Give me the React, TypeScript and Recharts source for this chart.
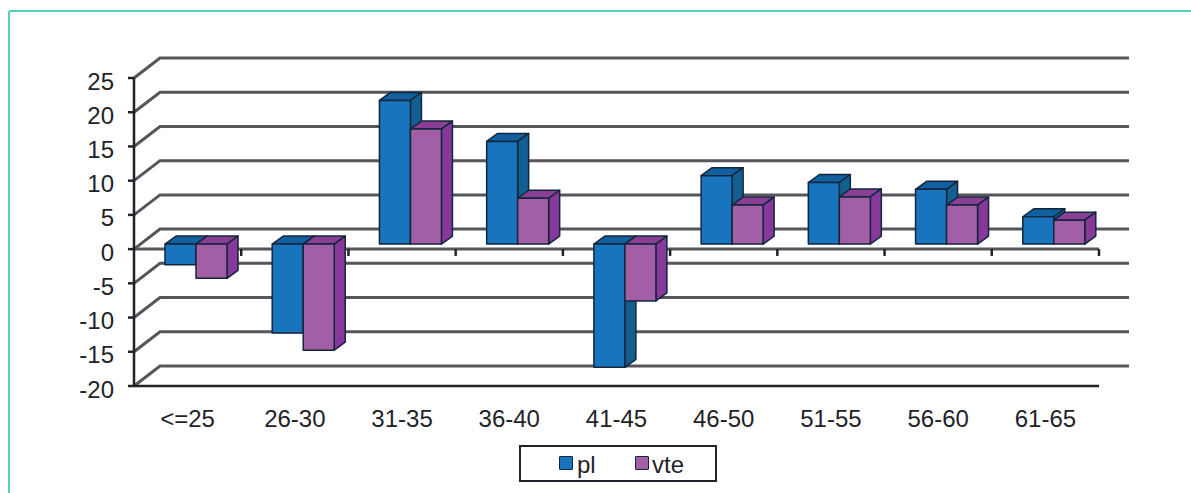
import { BarChart, Bar, XAxis, YAxis, CartesianGrid, Legend, ReferenceLine } from "recharts";

const categories = ["<=25", "26-30", "31-35", "36-40", "41-45", "46-50", "51-55", "56-60", "61-65"];
const plValues = [-3, -13, 21, 15, -18, 10, 9, 8, 4];
const vteValues = [-5, -15.5, 16.8, 6.7, -8.3, 5.7, 6.9, 5.7, 3.5];
const yTicks = [-20, -15, -10, -5, 0, 5, 10, 15, 20, 25];

const data = categories.map((age, i) => ({ age, pl: plValues[i], vte: vteValues[i] }));

const FONT = '"Liberation Sans", Arial, sans-serif';
const INK = "#1f2328";
const GRID = "#54565c";

// fake 3D look of the old spreadsheet chart
const WALL_DX = 26;
const WALL_DY = -20;
const BAR_DX = 8;
const BAR_DY = -5;
const DEPTH_X = 11;
const DEPTH_Y = -8;

const makeBox = (front: string, top: string, side: string) => (props: any) => {
  const { x, y, width, height } = props;
  const left = x + BAR_DX;
  const right = left + width;
  const upper = Math.min(y, y + height) + BAR_DY;
  const lower = Math.max(y, y + height) + BAR_DY;
  const outline = { stroke: "#14263c", strokeWidth: 1.5, strokeLinejoin: "round" as const };
  return (
    <g>
      <polygon
        points={`${left},${upper} ${left + DEPTH_X},${upper + DEPTH_Y} ${right + DEPTH_X},${upper + DEPTH_Y} ${right},${upper}`}
        fill={top}
        {...outline}
      />
      <polygon
        points={`${right},${upper} ${right + DEPTH_X},${upper + DEPTH_Y} ${right + DEPTH_X},${lower + DEPTH_Y} ${right},${lower}`}
        fill={side}
        {...outline}
      />
      <rect x={left} y={upper} width={width} height={lower - upper} fill={front} {...outline} />
    </g>
  );
};

const wallLine = (props: any) => {
  const { x1, x2, y1, key } = props;
  return (
    <polyline
      key={key}
      points={`${x1},${y1} ${x1 + WALL_DX},${y1 + WALL_DY} ${x2 + 30},${y1 + WALL_DY}`}
      fill="none"
      stroke={GRID}
      strokeWidth={3}
    />
  );
};

const swatchColors: Record<string, string> = { pl: "#1874BC", vte: "#A25FA5" };

const LegendBox = ({ payload }: any) => (
  <div
    style={{
      boxSizing: "border-box",
      width: 198,
      height: 37,
      border: `2.5px solid ${INK}`,
      background: "#fff",
      position: "relative",
      fontFamily: FONT,
      fontSize: 24,
      color: INK,
    }}
  >
    {(payload || []).map((item: any, i: number) => (
      <span key={item.value}>
        <span
          style={{
            position: "absolute",
            left: 38 + i * 76,
            top: 9,
            width: 12,
            height: 12,
            background: swatchColors[item.value],
            border: "1.5px solid #14263c",
            borderRadius: 1,
          }}
        />
        <span style={{ position: "absolute", left: 56 + i * 75, top: 5, lineHeight: "26px" }}>{item.value}</span>
      </span>
    ))}
  </div>
);

export default function App() {
  return (
    <div style={{ position: "absolute", left: 0, top: 0, width: 1191, height: 493, background: "#fff", overflow: "hidden" }}>
      <div
        style={{
          position: "absolute",
          left: 8,
          top: 10,
          right: 0,
          bottom: 0,
          borderTop: "2px solid #55d0bb",
          borderLeft: "2px solid #55d0bb",
          borderTopLeftRadius: 3,
        }}
      />
      <BarChart
        width={1191}
        height={493}
        data={data}
        barSize={31}
        barGap={0}
        margin={{ top: 78, right: 92, bottom: 47, left: 0 }}
        style={{ fontFamily: FONT }}
      >
        <CartesianGrid vertical={false} horizontal={wallLine} />
        <XAxis
          dataKey="age"
          height={60}
          interval={0}
          tickLine={false}
          tickMargin={18}
          axisLine={{ stroke: INK, strokeWidth: 2.5 }}
          tick={{ fill: INK, fontSize: 24 }}
        />
        <YAxis
          width={134}
          domain={[-20, 25]}
          ticks={yTicks}
          interval={0}
          tickSize={6}
          tickMargin={14}
          axisLine={{ stroke: INK, strokeWidth: 2.5 }}
          tickLine={{ stroke: INK, strokeWidth: 2.5 }}
          tick={{ fill: INK, fontSize: 24, dy: 3 }}
        />
        <ReferenceLine y={0} stroke={GRID} strokeWidth={3} zIndex={50} />
        {categories.map((age) => (
          <ReferenceLine
            key={age}
            segment={[
              { x: age, y: 0 },
              { x: age, y: -1 },
            ]}
            position="end"
            stroke={INK}
            strokeWidth={2.5}
            zIndex={50}
          />
        ))}
        <Bar dataKey="pl" name="pl" fill="#1874BC" shape={makeBox("#1874BC", "#12609f", "#125f92")} isAnimationActive={false} />
        <Bar dataKey="vte" name="vte" fill="#A25FA5" shape={makeBox("#A25FA5", "#8a3f96", "#86399a")} isAnimationActive={false} />
        <Legend
          verticalAlign="middle"
          content={<LegendBox />}
          wrapperStyle={{ left: 519, top: 445, width: 198, height: 37, transform: "none" }}
        />
      </BarChart>
    </div>
  );
}
